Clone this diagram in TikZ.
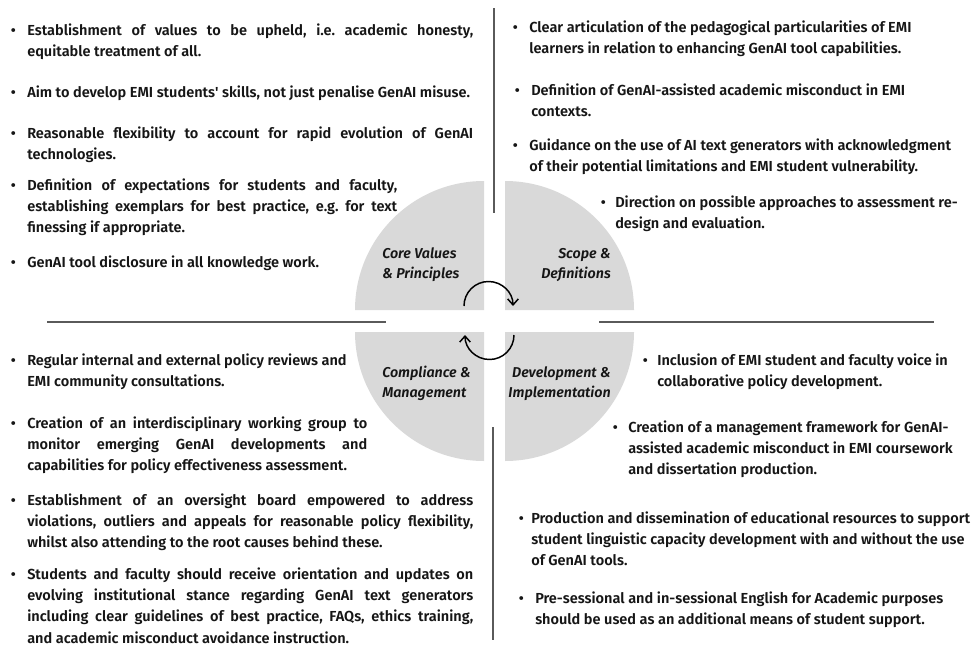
\documentclass[tikz,border=0pt]{standalone}
\usepackage{fontspec}
\setmainfont{Fira Sans}[UprightFont=* SemiBold, ItalicFont=* SemiBold Italic, BoldFont=* Bold]
\usetikzlibrary{arrows.meta}

\newlength\pxu
\setlength\pxu{0.75pt}
% a line stretched to a fixed width (justified line)
\newcommand\jline[2]{\makebox[#1\pxu][s]{#2}}
% bullet hung to the left of the first line
\newcommand\bul[1]{\leavevmode\llap{\makebox[0pt][c]{\textbullet}\hspace{#1\pxu}}}
\newcommand\itemtext[1]{\parbox[t]{620\pxu}{\frenchspacing#1}}

\definecolor{quad}{HTML}{D9D9D9}
\definecolor{rule}{HTML}{5A5A5A}
\definecolor{ink}{HTML}{161616}

\begin{document}
\begin{tikzpicture}[x=0.75pt, y=0.75pt,
  item/.style={anchor=base west, inner sep=0pt, text=ink,
    font=\fontsize{10.9}{16}\selectfont},
  lab/.style={inner sep=0pt, text=ink,
    font=\fontsize{10.7}{15}\selectfont\itshape},
  sep/.style={draw=rule, line width=1.1pt},
  cyc/.style={draw=black, line width=1.1pt, -{Straight Barb[length=4.5pt, width=8pt]}}]

\useasboundingbox (0,0) rectangle (971,-646);
\fill[white] (0,0) rectangle (971,-646);

% four quadrants of the disc
\fill[quad] (484,-310) -- ++(-129,0) arc[start angle=180, end angle=90, radius=129] -- cycle;
\fill[quad] (505,-310) -- ++(0,129) arc[start angle=90, end angle=0, radius=129] -- cycle;
\fill[quad] (484,-332) -- ++(-129,0) arc[start angle=180, end angle=270, radius=129] -- cycle;
\fill[quad] (505,-332) -- ++(129,0) arc[start angle=0, end angle=-90, radius=129] -- cycle;

% separating rules
\coordinate (vt1) at (494,-8);   \coordinate (vt2) at (494,-213);
\coordinate (vb1) at (493,-427); \coordinate (vb2) at (493,-640);
\coordinate (hl1) at (47,-322);  \coordinate (hl2) at (386,-322);
\coordinate (hr1) at (599,-322); \coordinate (hr2) at (934,-322);
\draw[sep] (vt1) -- (vt2);
\draw[sep] (vb1) -- (vb2);
\draw[sep] (hl1) -- (hl2);
\draw[sep] (hr1) -- (hr2);

% cycle arrows in the centre
\coordinate (ca) at (464,-306);
\coordinate (cb) at (514,-335);
\draw[cyc] (ca) arc[start angle=180, end angle=0, radius=24.5];
\draw[cyc] (cb) arc[start angle=0, end angle=-180, radius=24.5];

% quadrant labels
\node[lab, anchor=base west] (core) at (382,-258)
  {\parbox[t]{120\pxu}{Core Values\\\& Principles}};
\node[lab, anchor=base east] (scope) at (611,-258)
  {\parbox[t]{120\pxu}{\raggedleft Scope \&\\Definitions}};
\node[lab, anchor=base west] (comp) at (382,-377)
  {\parbox[t]{120\pxu}{Compliance \&\\Management}};
\node[lab, anchor=base east] (dev) at (611,-377)
  {\parbox[t]{140\pxu}{\raggedleft Development \&\\Implementation}};

% core values & principles
\node[item] (tl1) at (27,-35) {\itemtext{\bul{14}\jline{446}{Establishment of values to be upheld, i.e. academic honesty,}\\
  equitable treatment of all.}};
\node[item] (tl2) at (27,-97) {\itemtext{\bul{14}Aim to develop EMI students\textquotesingle{} skills, not just penalise GenAI misuse.}};
\node[item] (tl3) at (27,-138) {\itemtext{\bul{14}\jline{446}{Reasonable flexibility to account for rapid evolution of GenAI}\\
  technologies.}};
\node[item] (tl4) at (27,-190) {\itemtext{\bul{14}\jline{370}{Definition of expectations for students and faculty,}\\
  \jline{370}{establishing exemplars for best practice, e.g. for text}\\
  finessing if appropriate.}};
\node[item] (tl5) at (27,-267) {\itemtext{\bul{14}GenAI tool disclosure in all knowledge work.}};

% scope & definitions
\node[item] (tr1) at (529,-32) {\itemtext{\bul{14}Clear articulation of the pedagogical particularities of EMI\\
  learners in relation to enhancing GenAI tool capabilities.}};
\node[item] (tr2) at (531,-95) {\itemtext{\bul{14}Definition of GenAI-assisted academic misconduct in EMI\\
  contexts.}};
\node[item] (tr3) at (529,-150) {\itemtext{\bul{14}Guidance on the use of AI text generators with acknowledgment\\
  of their potential limitations and EMI student vulnerability.}};
\node[item] (tr4) at (615,-207) {\itemtext{\bul{12}Direction on possible approaches to assessment re-\\
  design and evaluation.}};

% compliance & management
\node[item] (bl1) at (27,-365) {\itemtext{\bul{14}Regular internal and external policy reviews and\\
  EMI community consultations.}};
\node[item] (bl2) at (27,-428) {\itemtext{\bul{14}\jline{340}{Creation of an interdisciplinary working group to}\\
  \jline{340}{monitor emerging GenAI developments and}\\
  capabilities for policy effectiveness assessment.}};
\node[item] (bl3) at (27,-505) {\itemtext{\bul{14}\jline{446}{Establishment of an oversight board empowered to address}\\
  \jline{446}{violations, outliers and appeals for reasonable policy flexibility,}\\
  whilst also attending to the root causes behind these.}};
\node[item] (bl4) at (27,-579) {\itemtext{\bul{14}\jline{446}{Students and faculty should receive orientation and updates on}\\
  \jline{446}{evolving institutional stance regarding GenAI text generators}\\
  \jline{446}{including clear guidelines of best practice, FAQs, ethics training,}\\
  and academic misconduct avoidance instruction.}};

% development & implementation
\node[item] (br1) at (657,-365) {\itemtext{\bul{12}Inclusion of EMI student and faculty voice in\\
  collaborative policy development.}};
\node[item] (br2) at (628,-432) {\itemtext{\bul{13}Creation of a management framework for GenAI-\\
  assisted academic misconduct in EMI coursework\\
  and dissertation production.}};
\node[item] (br3) at (531,-523) {\itemtext{\bul{10}Production and dissemination of educational resources to support\\
  student linguistic capacity development with and without the use\\
  of GenAI tools.}};
\node[item] (br4) at (535,-603) {\itemtext{\bul{14}Pre-sessional and in-sessional English for Academic purposes\\
  should be used as an additional means of student support.}};

\end{tikzpicture}
\end{document}
